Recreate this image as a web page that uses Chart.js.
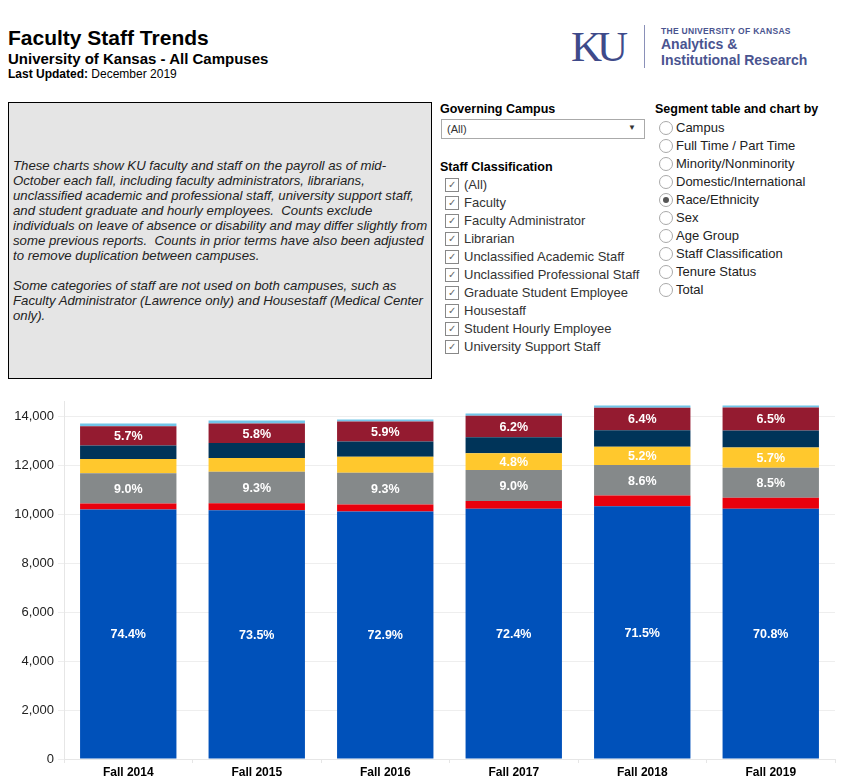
<!DOCTYPE html>
<html>
<head>
<meta charset="utf-8">
<script src="https://cdn.jsdelivr.net/npm/chart.js@4.4.1/dist/chart.umd.min.js"></script>
<style>
  html, body { margin:0; padding:0; background:#fff; }
  body { width:843px; height:783px; position:relative; overflow:hidden; font-family:"Liberation Sans", Arial, sans-serif; color:#000; }
  .abs { position:absolute; }
  #t1 { left:8px; top:26px; font-size:21px; font-weight:bold; }
  #t2 { left:8px; top:50px; font-size:15px; font-weight:bold; }
  #t3 { left:8px; top:67px; font-size:12px; }
  #ku { left:571px; top:22px; font-family:"Liberation Serif","DejaVu Serif",serif; font-size:43px; color:#3e4a8a; letter-spacing:-5px; }
  #vline { left:644px; top:25px; width:1px; height:43px; background:#8a90b8; }
  #lg1 { left:661px; top:26px; font-size:8.5px; font-weight:bold; color:#4a5490; letter-spacing:0.3px; }
  #lg2 { left:661px; top:36px; font-size:14px; font-weight:bold; color:#4a5490; line-height:16px; }
  #box { left:8px; top:102px; width:422px; height:275px; background:#e5e5e5; border:1px solid #000; display:flex; align-items:center; }
  #box div { padding-left:4px; font-size:13.2px; font-style:italic; line-height:15px; color:#222; white-space:nowrap; }
  .hdr { font-size:12.5px; font-weight:bold; }
  #dd { left:441px; top:119px; width:202px; height:18px; border:1px solid #aaa; font-size:11px; color:#333; }
  #dd span { position:absolute; left:5px; top:3px; }
  #dd b { position:absolute; right:8px; top:3px; font-size:8px; }
  .cb { position:absolute; left:445px; font-size:13px; color:#333; }
  .cb i { position:absolute; left:0; top:0; width:12px; height:12px; border:1px solid #888; background:#fff; font-style:normal; font-size:10px; color:#666; text-align:center; line-height:12px; }
  .cb span { position:absolute; left:19px; top:-1px; white-space:nowrap; }
  .rb { position:absolute; left:659px; font-size:13px; color:#222; }
  .rb i { position:absolute; left:0; top:0; width:12px; height:12px; border:1px solid #aaa; border-radius:50%; background:#fff; }
  .rb i.on::after { content:""; position:absolute; left:3px; top:3px; width:6px; height:6px; border-radius:50%; background:#555; }
  .rb span { position:absolute; left:17px; top:-1px; white-space:nowrap; }
  #chartWrap { left:0; top:390px; width:843px; height:393px; }
</style>
</head>
<body>
<div class="abs" id="t1">Faculty Staff Trends</div>
<div class="abs" id="t2">University of Kansas - All Campuses</div>
<div class="abs" id="t3"><b>Last Updated:</b> December 2019</div>

<div class="abs" id="ku">KU</div>
<div class="abs" id="vline"></div>
<div class="abs" id="lg1">THE UNIVERSITY OF KANSAS</div>
<div class="abs" id="lg2">Analytics &amp;<br>Institutional Research</div>

<div class="abs" id="box"><div>These charts show KU faculty and staff on the payroll as of mid-<br>October each fall, including faculty administrators, librarians,<br>unclassified academic and professional staff, university support staff,<br>and student graduate and hourly employees.&nbsp; Counts exclude<br>individuals on leave of absence or disability and may differ slightly from<br>some previous reports.&nbsp; Counts in prior terms have also been adjusted<br>to remove duplication between campuses.<br><br>Some categories of staff are not used on both campuses, such as<br>Faculty Administrator (Lawrence only) and Housestaff (Medical Center<br>only).</div></div>

<div class="abs hdr" style="left:440px;top:102px;">Governing Campus</div>
<div class="abs" id="dd"><span>(All)</span><b>&#9660;</b></div>
<div class="abs hdr" style="left:440px;top:160px;">Staff Classification</div>
<div id="cbs"></div>

<div class="abs hdr" style="left:655px;top:102px;">Segment table and chart by</div>
<div id="rbs"></div>

<div class="abs" id="chartWrap"><canvas id="c"></canvas></div>

<script>
// ---- Data ----
const categories = ["Fall 2014", "Fall 2015", "Fall 2016", "Fall 2017", "Fall 2018", "Fall 2019"];
const seriesNames = ["White", "Hispanic", "International", "Asian", "Black", "Other", "Unknown"];
const white         = [10203, 10170, 10117, 10225, 10331, 10230];
const hispanic      = [245, 280, 290, 320, 440, 450];
const international = [1234, 1287, 1291, 1271, 1243, 1228];
const asian         = [580, 565, 653, 678, 751, 824];
const black         = [555, 610, 626, 660, 670, 696];
const other         = [782, 803, 819, 876, 925, 939];
const unknown       = [115, 122, 82, 93, 89, 82];
// percentage labels shown in the picture (null = not shown)
const whiteLabels         = ["74.4%", "73.5%", "72.9%", "72.4%", "71.5%", "70.8%"];
const internationalLabels = ["9.0%", "9.3%", "9.3%", "9.0%", "8.6%", "8.5%"];
const asianLabels         = [null, null, null, "4.8%", "5.2%", "5.7%"];
const otherLabels         = ["5.7%", "5.8%", "5.9%", "6.2%", "6.4%", "6.5%"];
const yTickValues = [0, 2000, 4000, 6000, 8000, 10000, 12000, 14000];

const staffItems = ["(All)", "Faculty", "Faculty Administrator", "Librarian", "Unclassified Academic Staff", "Unclassified Professional Staff", "Graduate Student Employee", "Housestaff", "Student Hourly Employee", "University Support Staff"];
const segmentItems = ["Campus", "Full Time / Part Time", "Minority/Nonminority", "Domestic/International", "Race/Ethnicity", "Sex", "Age Group", "Staff Classification", "Tenure Status", "Total"];
const segmentSelected = "Race/Ethnicity";

// ---- Filter panels ----
const cbs = document.getElementById('cbs');
staffItems.forEach((s, i) => {
  const d = document.createElement('div');
  d.className = 'cb';
  d.style.top = (178 + i * 18) + 'px';
  d.innerHTML = '<i>&#10003;</i><span></span>';
  d.querySelector('span').textContent = s;
  cbs.appendChild(d);
});
const rbs = document.getElementById('rbs');
segmentItems.forEach((s, i) => {
  const d = document.createElement('div');
  d.className = 'rb';
  d.style.top = (121 + i * 18) + 'px';
  d.innerHTML = '<i' + (s === segmentSelected ? ' class="on"' : '') + '></i><span></span>';
  d.querySelector('span').textContent = s;
  rbs.appendChild(d);
});

// ---- Chart ----
const colors = ["#0051ba", "#e8000d", "#85898a", "#ffc82d", "#003459", "#941b30", "#71c5e8"];
const seriesData = [white, hispanic, international, asian, black, other, unknown];
const seriesLabels = [whiteLabels, null, internationalLabels, asianLabels, null, otherLabels, null];

const datasets = seriesData.map((d, i) => ({
  label: seriesNames[i],
  data: d,
  backgroundColor: colors[i],
  borderWidth: 0,
  barPercentage: 0.75,
  categoryPercentage: 1.0,
  segLabels: seriesLabels[i]
}));

const segLabelPlugin = {
  id: 'segLabels',
  afterDatasetsDraw(chart) {
    const ctx = chart.ctx;
    ctx.save();
    ctx.fillStyle = '#fff';
    ctx.font = 'bold 12.5px "Liberation Sans", Arial, sans-serif';
    ctx.textAlign = 'center';
    ctx.textBaseline = 'middle';
    chart.data.datasets.forEach((ds, di) => {
      if (!ds.segLabels) return;
      const meta = chart.getDatasetMeta(di);
      meta.data.forEach((bar, j) => {
        const t = ds.segLabels[j];
        if (!t) return;
        const y = (bar.y + bar.base) / 2;
        ctx.fillText(t, bar.x, y + 1);
      });
    });
    ctx.restore();
  }
};

new Chart(document.getElementById('c'), {
  type: 'bar',
  data: { labels: categories, datasets },
  options: {
    responsive: true,
    maintainAspectRatio: false,
    animation: false,
    layout: { padding: { top: 11, right: 8, left: 0, bottom: 0 } },
    plugins: { legend: { display: false }, tooltip: { enabled: false } },
    scales: {
      x: {
        stacked: true,
        grid: { display: true, offset: true, drawOnChartArea: false, color: '#e6e6e6', tickLength: 4 },
        border: { display: true, color: '#e6e6e6' },
        ticks: { color: '#000', font: { size: 12, weight: 'bold', family: '"Liberation Sans", Arial, sans-serif' }, padding: 2, maxRotation: 0 },
        afterFit(s) { s.height = 24; }
      },
      y: {
        stacked: true,
        min: 0,
        max: 14600,
        afterBuildTicks(s) { s.ticks = yTickValues.map(v => ({ value: v })); },
        ticks: {
          autoSkip: false,
          color: '#222',
          font: { size: 13, family: '"Liberation Sans", Arial, sans-serif' },
          padding: 4,
          callback: v => Number(v).toLocaleString('en-US')
        },
        grid: { color: '#eeeeee', tickLength: 6 },
        border: { display: true, color: '#e6e6e6' },
        afterFit(s) { s.width = 64; }
      }
    }
  },
  plugins: [segLabelPlugin]
});
</script>
</body>
</html>
